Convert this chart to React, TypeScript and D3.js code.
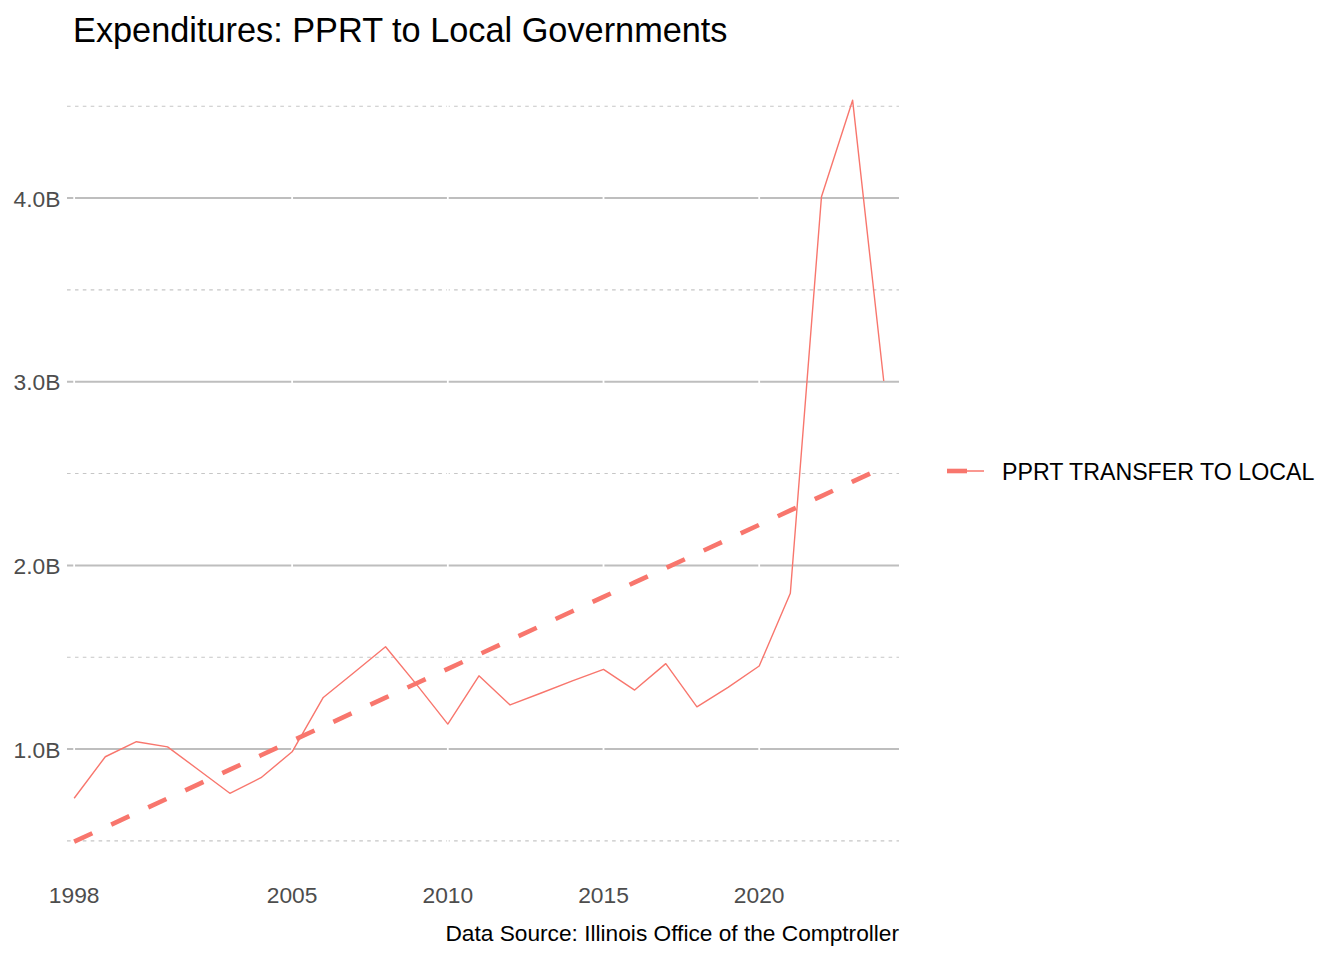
import React, { useEffect, useRef } from 'react';
import * as d3 from 'd3';

// PPRT transfers to local governments, billions of dollars
const years = [
  1998, 1999, 2000, 2001, 2002, 2003, 2004, 2005, 2006, 2007, 2008, 2009, 2010,
  2011, 2012, 2013, 2014, 2015, 2016, 2017, 2018, 2019, 2020, 2021, 2022, 2023, 2024,
];
const transfers = [
  0.732, 0.958, 1.040, 1.012, 0.886, 0.759, 0.844, 0.985, 1.281, 1.418, 1.557, 1.351, 1.136,
  1.399, 1.240, 1.305, 1.371, 1.434, 1.321, 1.465, 1.230, 1.336, 1.452, 1.848, 4.007, 4.533, 3.004,
];
const xBreaks = [1998, 2005, 2010, 2015, 2020];
const yBreaks = [1, 2, 3, 4];
const yMinorBreaks = [0.5, 1.5, 2.5, 3.5, 4.5];
const seriesName = 'PPRT TRANSFER TO LOCAL';

const W = 1344;
const H = 960;
const FONT = '"Liberation Sans", Arial, sans-serif';
const RED = '#F8766D';

const App: React.FC = () => {
  const ref = useRef<SVGSVGElement>(null);

  useEffect(() => {
    if (!ref.current) return;
    const svg = d3.select(ref.current);
    svg.selectAll('*').remove();

    const panel = { left: 67, right: 899 };

    const x = d3.scaleLinear().domain([1997.77, 2024.49]).range([panel.left, panel.right]);
    const y = d3.scaleLinear().domain([0.3, 4.73]).range([877.6, 64]);

    const data = years.map((yr, i) => ({ yr, v: transfers[i] }));

    // linear trend (lm)
    const mx = d3.mean(years) ?? 0;
    const my = d3.mean(transfers) ?? 0;
    const sxy = d3.sum(data, d => (d.yr - mx) * (d.v - my));
    const sxx = d3.sum(data, d => (d.yr - mx) ** 2);
    const slope = sxy / sxx;
    const trend = years.map(yr => ({ yr, v: my + slope * (yr - mx) }));

    // grid
    const g = svg.append('g');
    g.selectAll('.minor')
      .data(yMinorBreaks)
      .enter()
      .append('line')
      .attr('x1', panel.left)
      .attr('x2', panel.right)
      .attr('y1', d => y(d))
      .attr('y2', d => y(d))
      .attr('stroke', '#c6c6c6')
      .attr('stroke-width', 1.1)
      .attr('stroke-dasharray', '3.6 4.3');

    g.selectAll('.major')
      .data(yBreaks)
      .enter()
      .append('line')
      .attr('x1', panel.left)
      .attr('x2', panel.right)
      .attr('y1', d => y(d))
      .attr('y2', d => y(d))
      .attr('stroke', '#bebebe')
      .attr('stroke-width', 2);

    g.selectAll('.vgrid')
      .data(xBreaks)
      .enter()
      .append('line')
      .attr('x1', d => x(d))
      .attr('x2', d => x(d))
      .attr('y1', 64)
      .attr('y2', 877.6)
      .attr('stroke', '#ffffff')
      .attr('stroke-width', 1.8);

    // axis labels
    svg.append('g')
      .selectAll('text')
      .data(yBreaks)
      .enter()
      .append('text')
      .attr('x', 60.5)
      .attr('y', d => y(d) + 8.6)
      .attr('text-anchor', 'end')
      .attr('font-family', FONT)
      .attr('font-size', 22.8)
      .attr('fill', '#4d4d4d')
      .text(d => d.toFixed(1) + 'B');

    svg.append('g')
      .selectAll('text')
      .data(xBreaks)
      .enter()
      .append('text')
      .attr('x', d => x(d))
      .attr('y', 903)
      .attr('text-anchor', 'middle')
      .attr('font-family', FONT)
      .attr('font-size', 22.8)
      .attr('fill', '#4d4d4d')
      .text(d => String(d));

    // series
    const line = d3.line<{ yr: number, v: number }>()
      .x(d => x(d.yr))
      .y(d => y(d.v));

    svg.append('path')
      .datum(data)
      .attr('d', line)
      .attr('fill', 'none')
      .attr('stroke', RED)
      .attr('stroke-width', 1.4)
      .attr('stroke-linejoin', 'round');

    svg.append('path')
      .datum(trend)
      .attr('d', line)
      .attr('fill', 'none')
      .attr('stroke', RED)
      .attr('stroke-width', 4.6)
      .attr('stroke-linecap', 'butt')
      .attr('stroke-dasharray', '20 20.8');

    // legend
    const lg = svg.append('g').attr('transform', 'translate(947,471)');
    lg.append('line')
      .attr('x1', 0).attr('x2', 37).attr('y1', 0).attr('y2', 0)
      .attr('stroke', RED).attr('stroke-width', 1.4);
    lg.append('line')
      .attr('x1', 0).attr('x2', 37).attr('y1', 0).attr('y2', 0)
      .attr('stroke', RED).attr('stroke-width', 4.6)
      .attr('stroke-dasharray', '20 20.8');
    lg.append('text')
      .attr('x', 55)
      .attr('y', 8.5)
      .attr('font-family', FONT)
      .attr('font-size', 23.2)
      .attr('fill', '#000')
      .text(seriesName);

    // title and caption
    svg.append('text')
      .attr('x', 73)
      .attr('y', 41.7)
      .attr('font-family', FONT)
      .attr('font-size', 34.3)
      .attr('fill', '#000')
      .text('Expenditures: PPRT to Local Governments');

    svg.append('text')
      .attr('x', 899)
      .attr('y', 941)
      .attr('text-anchor', 'end')
      .attr('font-family', FONT)
      .attr('font-size', 22.7)
      .attr('fill', '#000')
      .text('Data Source: Illinois Office of the Comptroller');
  }, []);

  return (
    <svg
      ref={ref}
      width={W}
      height={H}
      style={{ position: 'absolute', left: 0, top: 0, background: '#fff' }}
    />
  );
};

export default App;
